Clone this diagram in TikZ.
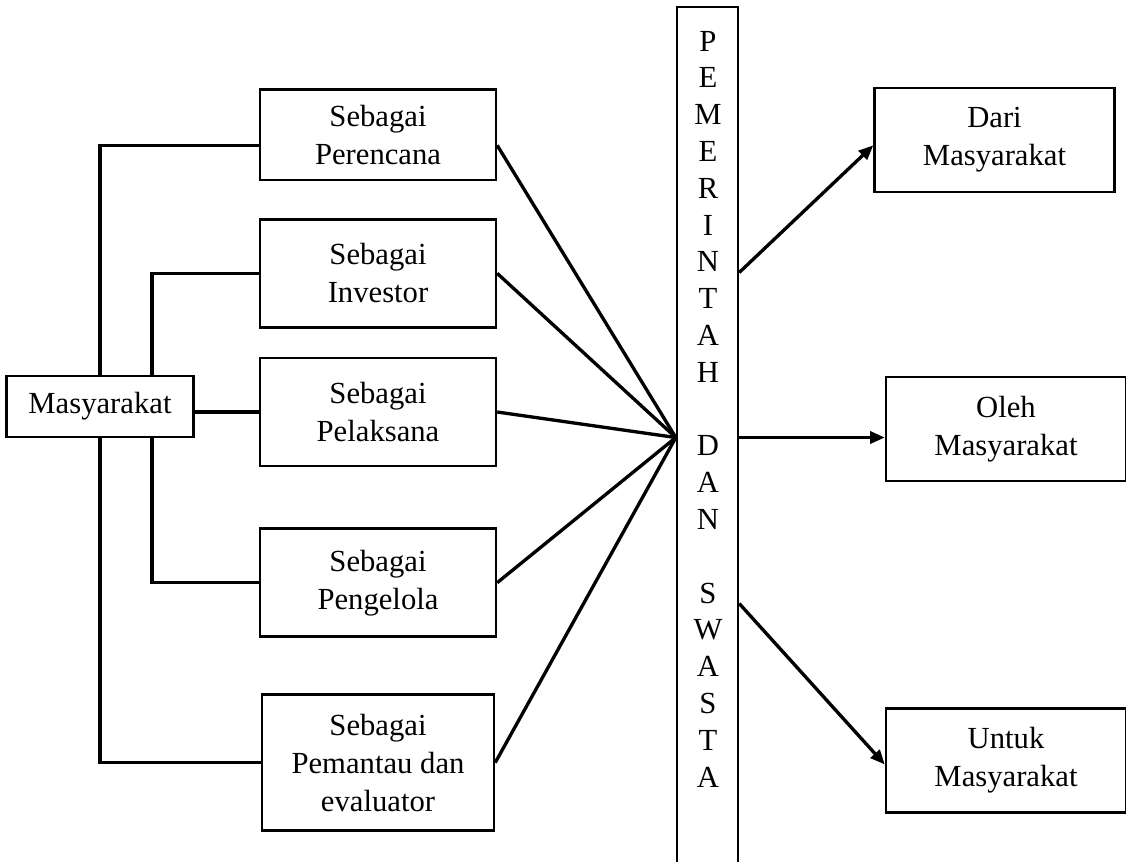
\documentclass[tikz,border=0pt]{standalone}
\usepackage{fontspec}
\setmainfont{Liberation Serif}
\usetikzlibrary{arrows.meta,positioning,calc,backgrounds}

\begin{document}
\begin{tikzpicture}[
    x=0.75pt, y=-0.75pt,
    node distance=104pt,
    >={Triangle[length=11pt,width=9pt]},
    every node/.style={font=\fontsize{23}{28.5}\selectfont},
    role/.style={
        rectangle,
        draw,
        line width=1.8pt,
        fill=white,
        align=center,
        minimum width=177pt,
        minimum height=81pt
    },
    target/.style={role, minimum width=180pt, minimum height=78pt},
    link/.style={line width=2.5pt, line join=miter},
    flow/.style={line width=2.5pt, ->}
]
\useasboundingbox (0,0) rectangle (1126,861);

% LEFT SIDE
\node[role, minimum width=140pt, minimum height=46pt] (mas) at (100,406.5) {Masyarakat};
\node[role] (pel) at (378,412) {Sebagai\\Pelaksana};
\node[role, above of=pel] (inv) {Sebagai\\Investor};
\node[role, above of=inv, minimum height=68pt] (per) {Sebagai\\Perencana};
\node[role, below of=pel, yshift=-24pt] (pen) {Sebagai\\Pengelola};
\node[role, below of=pen, yshift=-31pt, minimum width=174pt, minimum height=102pt] (pem) {Sebagai\\Pemantau dan\\evaluator};

% MIDDLE
\node[draw, line width=1.8pt, minimum width=45.75pt, minimum height=646pt] (gov) at (707.5,437.5) {};
\node[align=center, font=\fontsize{23}{27.6}\selectfont] (govlbl) at (708,409) {P\\E\\M\\E\\R\\I\\N\\T\\A\\H\\ \\D\\A\\N\\ \\S\\W\\A\\S\\T\\A};

% RIGHT SIDE
\node[target] (dari) at (994.5,140) {Dari\\Masyarakat};
\node[target] (oleh) at (1006,429) {Oleh\\Masyarakat};
\node[target] (untuk) at (1006,760.5) {Untuk\\Masyarakat};

% --- CONNECTORS ---
% From Masyarakat
\begin{scope}[on background layer]
\draw[link] ([yshift=-8pt]per.west) -| (mas.north) -- (mas.south) |- (pem.west);
\draw[link] (inv.west) -| ([xshift=39pt]mas.north) -- ([xshift=39pt]mas.south) |- (pen.west);
\draw[link] (mas.east |- pel.west) -- (pel.west);
\end{scope}

% Into Pemerintah dan Swasta
\draw[link] ([yshift=-8pt]per.east) -- (gov.west);
\draw[link] (inv.east) -- (gov.west);
\draw[link] (pel.east) -- (gov.west);
\draw[link] (pen.east) -- (gov.west);
\draw[link] (pem.east) -- (gov.west);

% Out of Pemerintah dan Swasta
\draw[flow] ($(gov.east)+(0,-165)$) -- ([yshift=-4pt]dari.west);
\draw[flow] (gov.east) -- (gov.east -| oleh.west);
\draw[flow] ($(gov.east)+(0,166)$) -- ([yshift=-3pt]untuk.west);

\end{tikzpicture}
\end{document}
